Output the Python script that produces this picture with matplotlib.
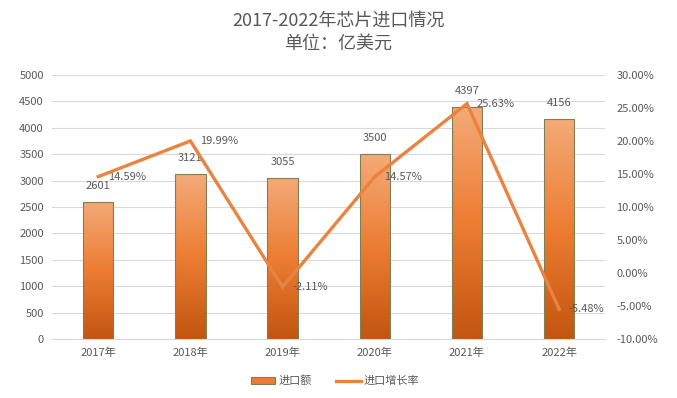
import numpy as np
import matplotlib
matplotlib.use("Agg")
import matplotlib.pyplot as plt
from matplotlib.colors import LinearSegmentedColormap
from matplotlib.patches import Patch
from matplotlib.lines import Line2D
from matplotlib.ticker import FuncFormatter

plt.rcParams['font.family'] = ['Noto Sans CJK SC', 'DejaVu Sans']

# --- data ---
years = ['2017年', '2018年', '2019年', '2020年', '2021年', '2022年']
imports = [2601, 3121, 3055, 3500, 4397, 4156]
growth = [0.1459, 0.1999, -0.0211, 0.1457, 0.2563, -0.0548]

TEXT = '#595959'
GRID = '#d9d9d9'
LINE = '#ea8340'
EDGE = '#7f7f55'

grad = LinearSegmentedColormap.from_list('bar', ['#c25510', '#ec7d32', '#f4aa78'])

fig = plt.figure(figsize=(6.77, 3.98), dpi=100)
ax = fig.add_axes([0.077, 0.148, 0.817, 0.664])
ax2 = ax.twinx()

x = np.arange(len(years))
bars = ax.bar(x, imports, width=0.33, facecolor='none', edgecolor=EDGE, linewidth=0.8, zorder=3)

# vertical gradient fill clipped to each bar
g = np.linspace(0, 1, 256).reshape(-1, 1)
for b in bars:
    x0, y0 = b.get_x(), b.get_y()
    w, h = b.get_width(), b.get_height()
    im = ax.imshow(g, cmap=grad, origin='lower', aspect='auto',
                   extent=[x0, x0 + w, y0, y0 + h], zorder=2)
    im.set_clip_path(b)

for xi, v in zip(x, imports):
    ax.annotate(str(v), (xi, v), xytext=(0, 8), textcoords='offset points',
                ha='center', va='bottom', fontsize=8, color=TEXT)

ax.set_xlim(-0.5, len(years) - 0.5)
ax.set_ylim(0, 5000)
ax.set_yticks(range(0, 5001, 500))
ax.set_xticks(x)
ax.set_xticklabels(years)
ax.grid(axis='y', color=GRID, linewidth=0.8, zorder=0)
ax.set_axisbelow(True)
for s in ax.spines.values():
    s.set_visible(False)
ax.spines['bottom'].set_visible(True)
ax.spines['bottom'].set_color(GRID)
ax.tick_params(length=0, labelsize=8, colors=TEXT, pad=6)

ax2.plot(x, growth, color=LINE, linewidth=2.4, solid_joinstyle='miter', zorder=4)
for xi, v in zip(x, growth):
    ax2.annotate(f'{v * 100:.2f}%', (xi, v), xytext=(7, 0), textcoords='offset points',
                 ha='left', va='center', fontsize=8, color=TEXT)
ax2.set_ylim(-0.10, 0.30)
ax2.set_yticks(np.arange(-0.10, 0.301, 0.05))
ax2.yaxis.set_major_formatter(FuncFormatter(lambda v, p: f'{v * 100:.2f}%'))
for s in ax2.spines.values():
    s.set_visible(False)
ax2.tick_params(length=0, labelsize=8, colors=TEXT, pad=8)

fig.text(0.5, 0.948, '2017-2022年芯片进口情况', ha='center', va='center', fontsize=13, color=TEXT)
fig.text(0.5, 0.889, '单位：亿美元', ha='center', va='center', fontsize=13, color=TEXT)

handles = [Patch(facecolor='#ec7d32', edgecolor=EDGE, linewidth=0.8),
           Line2D([0], [0], color=LINE, linewidth=2.4)]
fig.legend(handles, ['进口额', '进口增长率'], loc='center', bbox_to_anchor=(0.495, 0.043),
           ncol=2, frameon=False, fontsize=8, labelcolor=TEXT,
           handlelength=2.2, handleheight=0.6, handletextpad=0.3, columnspacing=2.2)

fig.savefig('out.png', dpi=100)
